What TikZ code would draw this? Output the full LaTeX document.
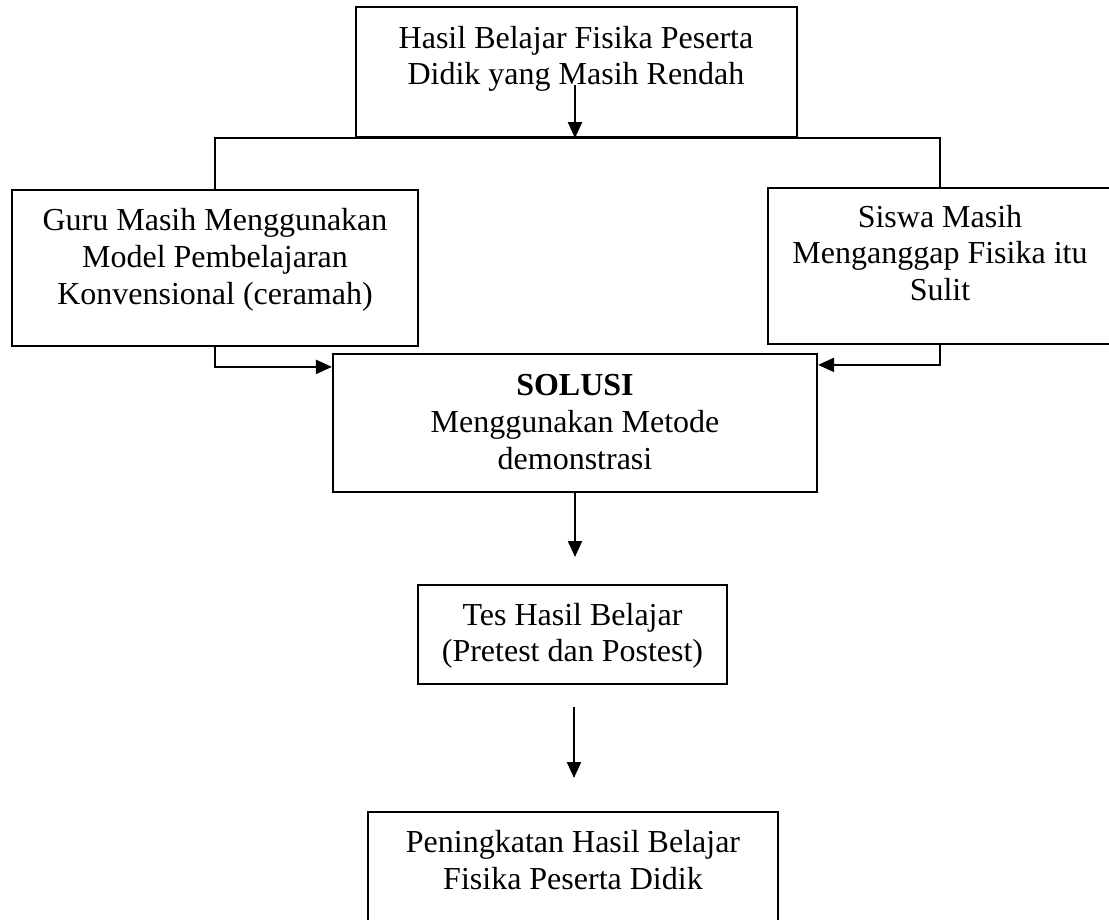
\documentclass[tikz,border=0pt]{standalone}
\usepackage{fontspec}
\setmainfont{Liberation Serif}
\usetikzlibrary{arrows.meta}
\begin{document}
\begin{tikzpicture}[x=1pt,y=-1pt,
 box/.style={draw, line width=2.2pt, inner sep=0pt},
 txt/.style={inner sep=0pt, align=center, anchor=north, font=\fontsize{32}{36.8}\selectfont},
 arr/.style={line width=2.2pt, -{Triangle[length=16pt,width=14pt]}},
 conn/.style={line width=2.2pt}]
\useasboundingbox (0,0) rectangle (1109,919);

% boxes
\node[box, minimum width=441pt, minimum height=130pt] (b1) at (576.5,72) {};
\node[box, minimum width=406pt, minimum height=156pt] (b2) at (215,268) {};
\node[box, minimum width=344pt, minimum height=156pt] (b3) at (940,266) {};
\node[box, minimum width=484pt, minimum height=138pt] (b4) at (575,423) {};
\node[box, minimum width=309pt, minimum height=99pt] (b5) at (572.5,634.5) {};
\node[box, minimum width=410pt, minimum height=116pt] (b6) at (573,870) {};

% texts
\node[txt] (t1) at (576,22.2) {\strut Hasil Belajar Fisika Peserta\\Didik yang Masih Rendah};
\node[txt] (t2) at (215,204.5) {\strut Guru Masih Menggunakan\\Model Pembelajaran\\Konvensional (ceramah)};
\node[txt] (t3) at (940,201.2) {\strut Siswa Masih\\Menganggap Fisika itu\\Sulit};
\node[txt] (t4) at (575,370) {\strut\textbf{SOLUSI}\\Menggunakan Metode\\demonstrasi};
\node[txt] (t5) at (572.5,599.2) {\strut Tes Hasil Belajar\\(Pretest dan Postest)};
\node[txt] (t6) at (573,827) {\strut Peningkatan Hasil Belajar\\Fisika Peserta Didik};

% connectors
\coordinate (s0) at (575,85);
\draw[arr] (s0) -- (s0 |- b1.south);
\draw[conn] (b2.north) |- (b1.south) -| (b3.north);
\draw[arr] (b2.south) |- ([yshift=-14pt]b4.north west);
\draw[arr] (b3.south) |- ([yshift=-12pt]b4.north east);
\coordinate (e1) at (575,557);
\draw[arr] (b4.south) -- (e1);
\coordinate (s2) at (574,707);
\coordinate (e2) at (574,778);
\draw[arr] (s2) -- (e2);
\end{tikzpicture}
\end{document}
